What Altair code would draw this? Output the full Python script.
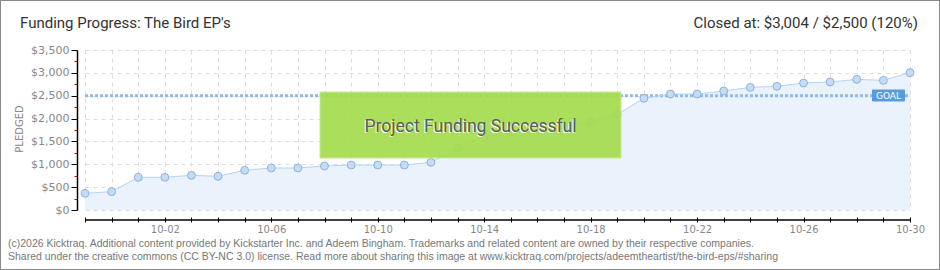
import altair as alt
import pandas as pd

# ---------------- data ----------------
dates = [
    "2025-09-29", "2025-09-30", "2025-10-01", "2025-10-02", "2025-10-03", "2025-10-04",
    "2025-10-05", "2025-10-06", "2025-10-07", "2025-10-08", "2025-10-09", "2025-10-10",
    "2025-10-11", "2025-10-12", "2025-10-13", "2025-10-14", "2025-10-15", "2025-10-16",
    "2025-10-17", "2025-10-18", "2025-10-19", "2025-10-20", "2025-10-21", "2025-10-22",
    "2025-10-23", "2025-10-24", "2025-10-25", "2025-10-26", "2025-10-27", "2025-10-28",
    "2025-10-29", "2025-10-30",
]
pledged = [
    365, 401, 715, 715, 759, 737, 868, 919, 919, 962, 984, 984,
    984, 1043, 1349, 1604, 1700, 1790, 1860, 1918, 2093, 2443, 2537, 2537,
    2603, 2683, 2705, 2778, 2800, 2858, 2836, 3004,
]
goal = 2500
y_ticks = list(range(0, 3501, 250))
title_text = "Funding Progress: The Bird EP's"
closed_text = "Closed at: $3,004 / $2,500 (120%)"
banner_text = "Project Funding Successful"
goal_label = "GOAL"
y_title = "PLEDGED"
footer_lines = [
    "(c)2026 Kicktraq. Additional content provided by Kickstarter Inc. and Adeem Bingham. Trademarks and related content are owned by their respective companies.",
    "Shared under the creative commons (CC BY-NC 3.0) license. Read more about sharing this image at www.kicktraq.com/projects/adeemtheartist/the-bird-eps/#sharing",
]

# ---------------- layout ----------------
W, H = 825, 160
PAD_L, PAD_T, PAD_R, PAD_B = 85, 50, 30, 60
AX_FONT = "DejaVu Sans"
NARROW = "Roboto, sans-serif"

df = pd.DataFrame({"date": dates, "pledged": pledged})
ts = (pd.to_datetime(dates).astype("int64") // 10**6).tolist()
t0 = ts[0]

x_scale = alt.Scale(type="utc", domain=[ts[0], ts[-1]], nice=False)
y_scale = alt.Scale(domain=[0, 3500], nice=False)

minor_test = "datum.value % 500 != 0"

x_axis = alt.Axis(
    values=ts, tickCount=200,
    labelExpr=f"round((datum.value - {t0}) / 86400000) % 4 == 3 ? utcFormat(datum.value, '%m-%d') : ''",
    offset=7, tickSize=5, tickColor="black", tickWidth=1, domain=False,
    grid=True, gridColor="#dcdcdc", gridDash=[4, 4],
    labelColor="#888888", labelFont=AX_FONT, labelFontSize=10, labelPadding=2,
    labelOverlap=False, labelFlush=False, labelBound=False, title=None,
)
y_axis = alt.Axis(
    values=y_ticks, tickCount=200,
    labelExpr="datum.value % 500 == 0 ? '$' + format(datum.value, ',') : ''",
    offset=8,
    tickSize={"condition": {"test": minor_test, "value": 3}, "value": 6},
    tickColor={"condition": {"test": minor_test, "value": "#e00000"}, "value": "black"},
    gridOpacity={"condition": {"test": minor_test, "value": 0}, "value": 1},
    grid=True, gridColor="#dcdcdc", gridDash=[4, 4],
    domainColor="black", domainWidth=1.5,
    labelColor="#888888", labelFont=AX_FONT, labelFontSize=11, labelPadding=2,
    labelOverlap=False, title=None,
)

base = alt.Chart(df)

area = base.mark_area(color="#eaf2fc", opacity=1).encode(
    x=alt.X("date:T", scale=x_scale, axis=x_axis),
    y=alt.Y("pledged:Q", scale=y_scale, axis=y_axis),
)
line = base.mark_line(color="#b5d3f2", strokeWidth=1).encode(x="date:T", y="pledged:Q")
points = base.mark_point(
    shape="circle", filled=True, size=62, fill="#c4dcf6", stroke="#8eb1da",
    strokeWidth=1, opacity=1,
).encode(x="date:T", y="pledged:Q")

span_df = pd.DataFrame({"start": [dates[0]], "end": [dates[-1]], "goal": [goal]})
goal_rule = alt.Chart(span_df).mark_rule(
    color="#8ebbe8", strokeWidth=3, strokeDash=[3, 2]
).encode(x="start:T", x2="end:T", y="goal:Q")

x_domain_line = alt.Chart(span_df).mark_rule(color="black", strokeWidth=1.5).encode(
    x="start:T", x2="end:T", y=alt.value(H + 10)
)

# success banner
banner_df = pd.DataFrame({"t": [banner_text]})
banner_box = alt.Chart(banner_df).mark_rect(
    fill="#a5dc4f", opacity=0.93, stroke="#c4ea8c", strokeWidth=1
).encode(x=alt.value(235), x2=alt.value(536), y=alt.value(42), y2=alt.value(108))
banner_shadow = alt.Chart(banner_df).mark_text(
    font=NARROW, fontSize=17.5, color="white", align="center", baseline="middle", dx=-1, dy=1
).encode(x=alt.value(385.5), y=alt.value(76.5), text="t:N")
banner_txt = alt.Chart(banner_df).mark_text(
    font=NARROW, fontSize=17.5, color="#5c5c5c", align="center", baseline="middle"
).encode(x=alt.value(385.5), y=alt.value(76.5), text="t:N")

# goal label
goal_df = pd.DataFrame({"t": [goal_label]})
goal_box = alt.Chart(goal_df).mark_rect(fill="#5a9bdc", cornerRadius=1).encode(
    x=alt.value(787), x2=alt.value(820), y=alt.value(39.5), y2=alt.value(51.5)
)
goal_txt = alt.Chart(goal_df).mark_text(
    font=AX_FONT, fontSize=9, color="white", align="center", baseline="middle"
).encode(x=alt.value(803.5), y=alt.value(45.8), text="t:N")

# titles
title_df = pd.DataFrame({"t": [title_text]})
title_mark = alt.Chart(title_df).mark_text(
    font=NARROW, fontSize=15, color="#333333", align="left", baseline="alphabetic"
).encode(x=alt.value(20 - PAD_L), y=alt.value(28 - PAD_T), text="t:N")
closed_df = pd.DataFrame({"t": [closed_text]})
closed_mark = alt.Chart(closed_df).mark_text(
    font=NARROW, fontSize=15, color="#333333", align="right", baseline="alphabetic"
).encode(x=alt.value(918 - PAD_L), y=alt.value(28 - PAD_T), text="t:N")

ytitle_df = pd.DataFrame({"t": [y_title]})
ytitle_mark = alt.Chart(ytitle_df).mark_text(
    font=AX_FONT, fontSize=10, color="#888888", align="center", baseline="middle", angle=270
).encode(x=alt.value(20 - PAD_L), y=alt.value(129 - PAD_T), text="t:N")

footer_df = pd.DataFrame({"t": footer_lines, "row": [0, 1]})
footer1 = alt.Chart(footer_df.iloc[[0]]).mark_text(
    font="Liberation Sans, sans-serif", fontSize=10.5, color="#777777", align="left", baseline="alphabetic"
).encode(x=alt.value(8 - PAD_L), y=alt.value(247 - PAD_T), text="t:N")
footer2 = alt.Chart(footer_df.iloc[[1]]).mark_text(
    font="Liberation Sans, sans-serif", fontSize=10.5, color="#777777", align="left", baseline="alphabetic"
).encode(x=alt.value(8 - PAD_L), y=alt.value(260 - PAD_T), text="t:N")

border = alt.Chart(title_df).mark_rect(fillOpacity=0, stroke="#8a8a8a", strokeWidth=2).encode(
    x=alt.value(-PAD_L), x2=alt.value(W + PAD_R), y=alt.value(-PAD_T), y2=alt.value(H + PAD_B)
)

chart = alt.layer(
    area, goal_rule, line, points, x_domain_line,
    banner_box, banner_shadow, banner_txt, goal_box, goal_txt,
    title_mark, closed_mark, ytitle_mark, footer1, footer2, border,
).properties(
    width=W, height=H,
    padding={"left": PAD_L, "top": PAD_T, "right": PAD_R, "bottom": PAD_B},
    autosize=alt.AutoSizeParams(type="none"),
    background="white",
).configure_view(stroke=None)

chart.save("out.html", embed_options={"renderer": "svg", "actions": False})
